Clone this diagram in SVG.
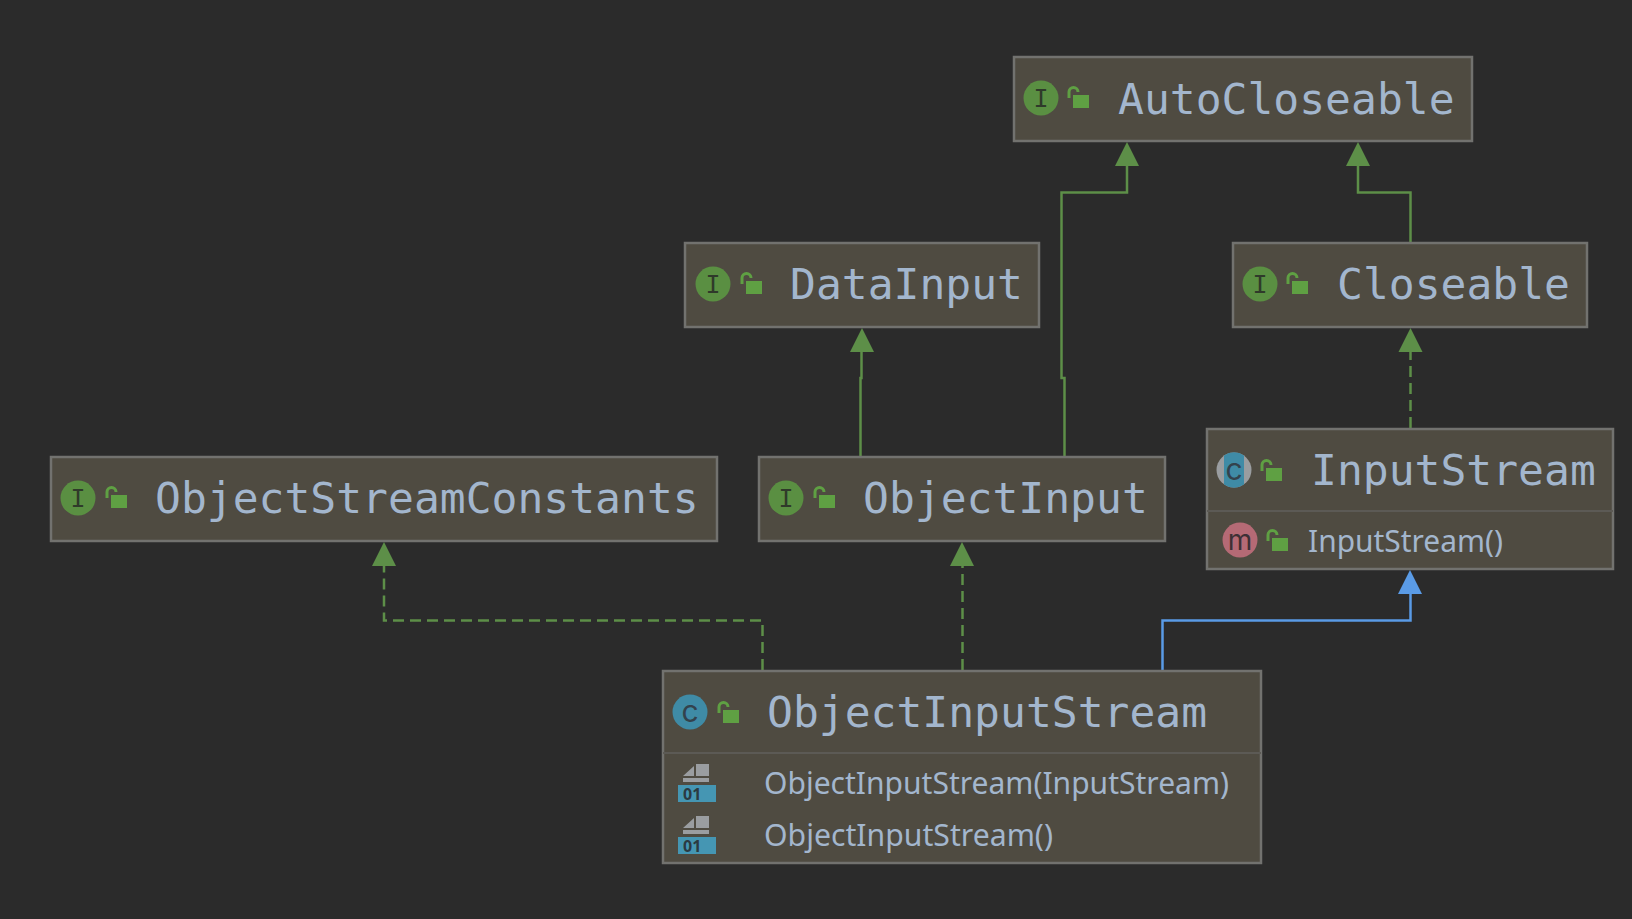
<svg xmlns="http://www.w3.org/2000/svg" width="1632" height="919" viewBox="0 0 1632 919">
<style>
.box{fill:#4f4b41;stroke:#72726f;stroke-width:2.500}
.div{stroke:#5c5a55;stroke-width:2}
.t{font-family:"DejaVu Sans Mono","Liberation Mono",monospace;font-size:43px;fill:#a3b6cd}
.m{font-family:"Noto Sans","Open Sans",sans-serif;font-size:30px;fill:#a3b6cd}
.c{fill:none;stroke:#5d8f48;stroke-width:2.500}
.d{stroke-dasharray:11 6}
.l{font-family:"DejaVu Sans Mono","Liberation Mono",monospace;font-size:25px;fill:#2f3a2a;text-anchor:middle}
.k{font-family:"Inter","Noto Sans",sans-serif;font-size:30px;fill:#33424d;text-anchor:middle}
.n{font-family:"Noto Sans",sans-serif;font-size:16px;font-weight:bold;fill:#2b3a42}
</style>
<defs>
<g id="lock"><path d="M-8 0v-6a4.500 4.500 0 0 1 9 0" fill="none" stroke="#5fa043" stroke-width="3"/><rect x="-4" y="-3" width="16" height="13" fill="#5fa043"/></g>
<g id="I"><circle r="17.500" fill="#5a8f42"/><text class="l" y="9">I</text></g>
<g id="C"><circle r="17.500" fill="#3f8ba6"/><text class="k" y="10">c</text></g>
<g id="F"><path d="M-1 -18h13v12h-13zM-3 -16v10h-11zM-14 -4h26v4h-26z" fill="#9a9da0"/><rect x="-19" y="3" width="38" height="17" fill="#4596b3"/><text class="n" x="-14" y="18">01</text></g>
<path id="ag" d="M0 0l12 24h-24z" fill="#5d8f48"/>
</defs>
<rect width="1632" height="919" fill="#2b2b2b"/>
<g id="connectors">
<path class="c" d="M1064.500 456V378H1061.500V192.500H1127V150"/><use href="#ag" x="1127" y="142"/>
<path class="c" d="M1410.500 242V192.500H1358V150"/><use href="#ag" x="1358" y="142"/>
<path class="c" d="M860.500 456V378H861.500V335"/><use href="#ag" x="862" y="328"/>
<path class="c d" d="M1410.500 428V335"/><use href="#ag" x="1410.500" y="328"/>
<path class="c d" d="M762.500 670V620.500H384V548"/><use href="#ag" x="384" y="542"/>
<path class="c d" d="M962.500 670V548"/><use href="#ag" x="962" y="542"/>
<path class="c" style="stroke:#5a9be6" d="M1162.500 670V620.500H1410.500V577"/><path d="M1410 570l12 24h-24z" fill="#5a9be6"/>
</g>
<g id="AutoCloseable"><rect class="box" x="1014" y="57" width="458" height="84"/><use href="#I" x="1041" y="98"/><use href="#lock" x="1077" y="98"/><text class="t" x="1118" y="114">AutoCloseable</text></g>
<g id="DataInput"><rect class="box" x="685" y="243" width="354" height="84"/><use href="#I" x="713" y="284"/><use href="#lock" x="750" y="284"/><text class="t" x="790" y="299">DataInput</text></g>
<g id="Closeable"><rect class="box" x="1233" y="243" width="354" height="84"/><use href="#I" x="1260" y="284"/><use href="#lock" x="1296" y="284"/><text class="t" x="1337" y="299">Closeable</text></g>
<g id="ObjectStreamConstants"><rect class="box" x="51" y="457" width="666" height="84"/><use href="#I" x="78" y="498"/><use href="#lock" x="115" y="498"/><text class="t" x="155" y="513">ObjectStreamConstants</text></g>
<g id="ObjectInput"><rect class="box" x="759" y="457" width="406" height="84"/><use href="#I" x="786" y="498"/><use href="#lock" x="823" y="498"/><text class="t" x="863" y="513">ObjectInput</text></g>
<g id="InputStream"><rect class="box" x="1207" y="429" width="406" height="140"/><line class="div" x1="1207" y1="511" x2="1613" y2="511"/>
<circle cx="1234" cy="470" r="17.500" fill="#9a9da0"/><path d="M1224 455.500a17.500 17.500 0 0 1 20 0v29a17.500 17.500 0 0 1 -20 0z" fill="#3f8ba6"/><text class="k" x="1234" y="480">c</text>
<use href="#lock" x="1270" y="471"/><text class="t" x="1311" y="485">InputStream</text>
<circle cx="1240" cy="540" r="17.500" fill="#b56a75"/><text class="k" x="1240" y="550" style="fill:#3d3035;font-size:28px">m</text><use href="#lock" x="1276" y="541"/><text class="m" x="1308" y="552" textLength="195" lengthAdjust="spacingAndGlyphs">InputStream()</text></g>
<g id="ObjectInputStream"><rect class="box" x="663" y="671" width="598" height="192"/><line class="div" x1="663" y1="753" x2="1261" y2="753"/>
<use href="#C" x="690" y="712"/><use href="#lock" x="727" y="713"/><text class="t" x="767" y="727">ObjectInputStream</text>
<use href="#F" x="697" y="782"/><text class="m" x="764" y="794" textLength="465" lengthAdjust="spacingAndGlyphs">ObjectInputStream(InputStream)</text>
<use href="#F" x="697" y="834"/><text class="m" x="764" y="846" textLength="289" lengthAdjust="spacingAndGlyphs">ObjectInputStream()</text></g>
</svg>
